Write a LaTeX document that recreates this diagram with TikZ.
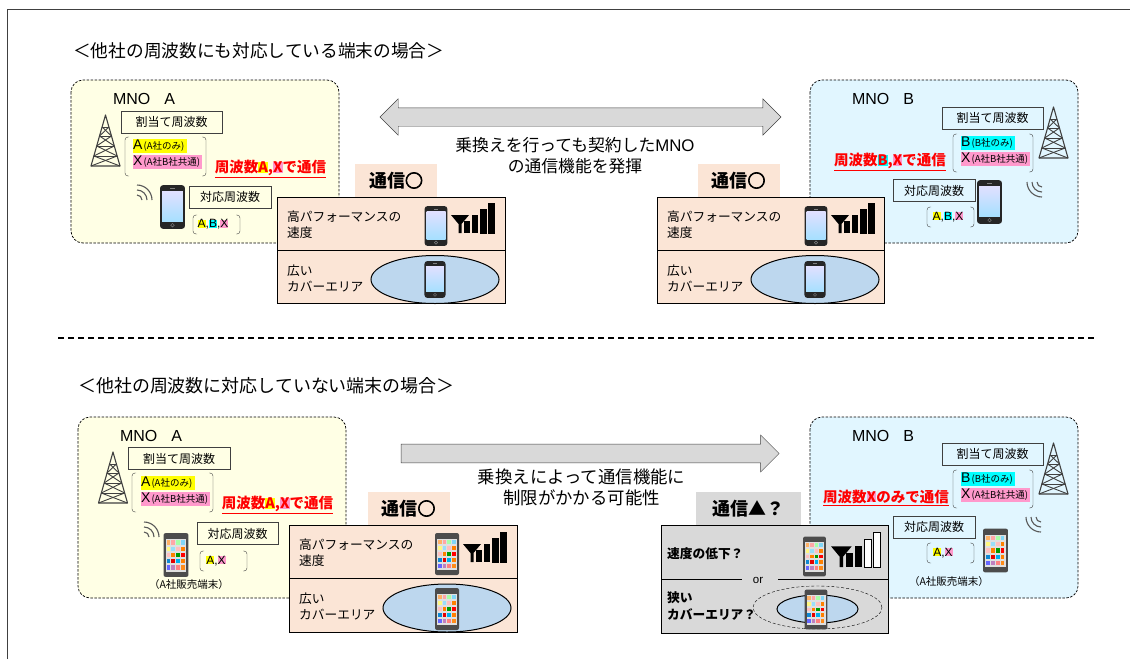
\documentclass[tikz,border=0pt]{standalone}
\usepackage{fontspec}
\setmainfont{Noto Sans CJK JP}
\newfontfamily\latin{Liberation Sans}
\newfontfamily\fatcircle[FakeBold=4]{Noto Sans CJK JP}
\usetikzlibrary{shapes.arrows}
\definecolor{lemon}{HTML}{FFFFE5}
\definecolor{sky}{HTML}{E1F6FF}
\definecolor{peach}{HTML}{FBE5D6}
\definecolor{pale}{HTML}{D9D9D9}
\definecolor{lake}{HTML}{BDD7EE}
\definecolor{rim}{HTML}{404040}
\definecolor{hlpink}{HTML}{FF99CC}
\definecolor{hlyellow}{HTML}{FFFF00}
\definecolor{hlcyan}{HTML}{00FFFF}
\newcommand{\fs}[1]{\fontsize{#1}{#1}\selectfont}
\newcommand{\hlbg}[2]{{\setlength{\fboxsep}{0pt}\colorbox{#1}{#2}}}
\newcommand{\bracketpair}[4]{\draw[rim,rounded corners=3pt] (#1+4,#2) -- (#1,#2) -- (#1,#4) -- (#1+4,#4);
  \draw[rim,rounded corners=3pt] (#3-4,#2) -- (#3,#2) -- (#3,#4) -- (#3-4,#4);}
\newcommand{\mnoname}[1]{{\latin MNO\hspace{14pt}#1}}
\newcommand{\freqline}[2]{{\latin #1}\hspace{1pt}{\fs{9.5}(#2)}}
\newcommand{\goodcomm}{通信{\fatcircle ○}}
\tikzset{
  mno/.style={draw,line width=.7pt,dash pattern=on 2.5pt off 1.5pt,rounded corners=12pt},
  mnotext/.style={inner sep=0pt,font=\fs{16}},
  freqbox/.style={draw=rim,line width=.9pt,minimum height=22pt,inner sep=0pt,font=\fs{12}},
  hltext/.style={anchor=west,inner sep=0pt,minimum height=14pt,align=left,font=\fs{14}},
  redtext/.style={text=red,font=\fs{14.5}\bfseries,inner sep=0pt},
  comm/.style={minimum width=82pt,minimum height=33pt,inner sep=0pt,font=\fs{18}\bfseries},
  paneltext/.style={anchor=west,align=left,inner sep=0pt,font=\fontsize{12.7}{16}\selectfont},
  midtext/.style={align=center,font=\fontsize{16.8}{21}\selectfont},
  pics/phone/.style={code={
    \fill[black!85,rounded corners=3pt] (-12,-21) rectangle (12,21);
    \shade[top color=blue!12,bottom color=blue!35!cyan!35] (-10,-15) rectangle (10,14);
    \draw[gray,line width=.4pt] (0,17.5) circle (1.7pt);
    \draw[gray,line width=.5pt] (-2,-18) -- (2,-18);
  }},
  pics/appphone/.style={code={
    \fill[black!70,rounded corners=2pt] (-12,-21) rectangle (12,21);
    \fill[black!12] (-10,-15) rectangle (10,16);
    \foreach \cola/\colb/\colc/\cold [count=\r from 0] in {orange!60/red!35/green!35/cyan!50,yellow!50/cyan!40/pink/orange,pink/orange/green!60!black/red,cyan!70!blue/red!90!black/cyan/orange,blue!60/violet!50/red!50/orange!90}{
      \fill[\cola] (-9,-14+6*\r) rectangle +(3.6,4);
      \fill[\colb] (-4.4,-14+6*\r) rectangle +(3.6,4);
      \fill[\colc] (.4,-14+6*\r) rectangle +(3.6,4);
      \fill[\cold] (5,-14+6*\r) rectangle +(3.6,4);
    }
  }},
  pics/tower/.style={code={
    \draw[rim,line width=1.1pt,line join=round] (-14.5,51) -- (0,0) -- (14.5,51) -- cycle;
    \foreach \ya/\yb in {12/21,21/31,31/41,41/51}{
      \draw[rim,line width=.9pt] ({-.284*\ya},\ya) -- ({.284*\ya},\ya);
      \draw[rim,line width=.9pt] ({-.284*\ya},\ya) -- ({.284*\yb},\yb);
      \draw[rim,line width=.9pt] ({.284*\ya},\ya) -- ({-.284*\yb},\yb);
    }
  }},
  pics/waves/.style={code={
    \foreach \r in {5,10,15}
      \draw[black!65,line width=1.1pt] (\r,0) .. controls (\r,-.55*\r) and (.55*\r,-\r) .. (0,-\r);
  }},
  pics/signal/.style={code={
    \fill (0,-18) -- (18,-18) -- (10.5,-9) -- (10.5,0) -- (7.5,0) -- (7.5,-9) -- cycle;
    \fill (13,-12) rectangle (18.8,0);
    \fill (21,-18) rectangle (26.8,0);
    \draw[fill=#1,line width=.5pt] (29,-24) rectangle (34.8,0);
    \draw[fill=#1,line width=.5pt] (37,-30) rectangle (42.8,0);
  }},
}
\begin{document}
\begin{tikzpicture}[x=1pt,y=-1pt]
  \useasboundingbox (0,0) rectangle (1130,659);
  \draw[rim,line width=1pt] (7,659) -- (7,9.5) -- (1130,9.5);
  \node[inner sep=0pt,anchor=west,font=\fs{17.7}] (titleup) at (73,51) {＜他社の周波数にも対応している端末の場合＞};
  \node[inner sep=0pt,anchor=west,font=\fs{17.95}] (titledown) at (78,386) {＜他社の周波数に対応していない端末の場合＞};
  \draw[line width=1.1pt,dash pattern=on 6pt off 4pt] (58,338) -- (1096,338);

  % MNO areas
  \draw[mno,fill=lemon] (71,80) rectangle (339,243);
  \draw[mno,fill=sky] (810,80) rectangle (1078,243);
  \draw[mno,fill=lemon] (78,417) rectangle (346,598);
  \draw[mno,fill=sky] (810,417) rectangle (1078,598);

  % upper left
  \node[mnotext] (mnoa) at (144,99) {\mnoname{A}};
  \pic at (105.5,115) {tower};
  \node[freqbox,minimum width=101pt] (alloca) at (171.5,122) {割当て周波数};
  \bracketpair{125}{137}{206}{176}
  \node[hltext,fill=hlyellow,text width=54pt] (only) at (133,145.5) {\freqline{A}{A社のみ}};
  \node[hltext,fill=hlpink,text width=69pt] (share) at (133,162) {\freqline{X}{A社B社共通}};
  \node[redtext] (usea) at (270.5,169) {\underline{周波数\hlbg{hlyellow}{A},\hlbg{hlpink}{X}で通信}};
  \pic at (137,200) {waves};
  \pic[scale=1.04] at (172.5,207) {phone};
  \node[freqbox,minimum width=82pt] (supporta) at (230,197) {対応周波数};
  \bracketpair{193}{215}{240}{234}
  \node[inner sep=0pt,font=\latin\fs{12}] (banda) at (213,224.5) {\hlbg{hlyellow}{A},\hlbg{hlcyan}{B},\hlbg{hlpink}{X}};

  % upper right
  \node[mnotext] (mnob) at (883,99) {\mnoname{B}};
  \pic at (1053.5,107) {tower};
  \node[freqbox,minimum width=101pt] (allocb) at (992.5,118) {割当て周波数};
  \bracketpair{953}{134}{1033}{172}
  \node[hltext,fill=hlcyan,text width=54pt] (onlyb) at (961,143) {\freqline{B}{B社のみ}};
  \node[hltext,fill=hlpink,text width=69pt] (shareb) at (961,159) {\freqline{X}{A社B社共通}};
  \node[redtext] (useb) at (890,162) {\underline{周波数\hlbg{hlcyan}{B},\hlbg{hlpink}{X}で通信}};
  \pic[rotate=180] at (1042,182) {waves};
  \pic[scale=1.04] at (989.5,202) {phone};
  \node[freqbox,minimum width=82pt] (supportb) at (934,190.5) {対応周波数};
  \bracketpair{927}{207}{974}{227}
  \node[inner sep=0pt,font=\latin\fs{12}] (bandb) at (948,217) {\hlbg{hlyellow}{A},\hlbg{hlcyan}{B},\hlbg{hlpink}{X}};

  % lower left
  \node[mnotext] (mnoc) at (151,436) {\mnoname{A}};
  \pic at (113,452) {tower};
  \node[freqbox,minimum width=102pt] (allocc) at (179,458.5) {割当て周波数};
  \bracketpair{132}{473}{213}{512}
  \node[hltext,fill=hlyellow,text width=54pt] (onlyc) at (141,483) {\freqline{A}{A社のみ}};
  \node[hltext,fill=hlpink,text width=69pt] (sharec) at (141,499) {\freqline{X}{A社B社共通}};
  \node[redtext] (usec) at (277.5,505) {\underline{周波数\hlbg{hlyellow}{A},\hlbg{hlpink}{X}で通信}};
  \pic at (144,537) {waves};
  \pic[scale=1.04] at (176,555) {appphone};
  \node[freqbox,minimum width=81pt] (supportc) at (237.5,533.5) {対応周波数};
  \bracketpair{200}{551}{247}{571}
  \node[inner sep=0pt,font=\latin\fs{12}] (bandc) at (216,561) {\hlbg{hlyellow}{A},\hlbg{hlpink}{X}};
  \node[inner sep=0pt,font=\fs{10.5}] (capc) at (189,585) {（A社販売端末）};

  % lower right
  \node[mnotext] (mnod) at (883,436) {\mnoname{B}};
  \pic at (1053.5,443) {tower};
  \node[freqbox,minimum width=101pt] (allocd) at (992.5,454) {割当て周波数};
  \bracketpair{953}{470}{1033}{508}
  \node[hltext,fill=hlcyan,text width=54pt] (onlyd) at (961,479) {\freqline{B}{B社のみ}};
  \node[hltext,fill=hlpink,text width=69pt] (shared) at (961,495) {\freqline{X}{A社B社共通}};
  \node[redtext] (used) at (886,498) {\underline{周波数\hlbg{hlpink}{X}のみで通信}};
  \pic[rotate=180] at (1041,517) {waves};
  \pic[scale=1.04] at (995.5,550.5) {appphone};
  \node[freqbox,minimum width=82pt] (supportd) at (934,527) {対応周波数};
  \bracketpair{927}{543}{974}{563}
  \node[inner sep=0pt,font=\latin\fs{12}] (bandd) at (943,553) {\hlbg{hlyellow}{A},\hlbg{hlpink}{X}};
  \node[inner sep=0pt,font=\fs{10.5}] (capd) at (949,582) {（A社販売端末）};

  % arrows and middle texts
  \node[double arrow,draw=rim,fill=pale,inner xsep=0pt,inner ysep=9pt,minimum height=401pt,minimum width=36pt,double arrow head extend=9pt] (both) at (580.5,117) {};
  \node[midtext] (keep) at (575,155.5) {乗換えを行っても契約した{\latin MNO}\\の通信機能を発揮};
  \node[single arrow,draw=rim,fill=pale,inner xsep=0pt,inner ysep=9pt,minimum height=378pt,minimum width=37pt,single arrow head extend=9pt] (oneway) at (585.5,453.5) {};
  \node[midtext,font=\fontsize{17.4}{21}\selectfont] (limit) at (581.5,487.5) {乗換えによって通信機能に\\制限がかかる可能性};

  % panels
  \node[comm,fill=peach] (commone) at (396,180.5) {\goodcomm};
  \draw[fill=peach,line width=1pt] (277,197) rectangle (505,303);
  \draw[line width=1pt] (277,250) -- (505,250);
  \node[paneltext] (fastone) at (287,225) {高パフォーマンスの\\速度};
  \node[paneltext] (wideone) at (287,278) {広い\\カバーエリア};
  \pic[scale=.95] at (436,226) {phone};
  \pic at (451,233) {signal=black};
  \draw[line width=1pt,fill=lake] (435,279.5) ellipse [x radius=64pt,y radius=24pt];
  \pic[scale=.88] at (435,279.5) {phone};

  \node[comm,fill=peach] (commtwo) at (738.5,180.5) {\goodcomm};
  \draw[fill=peach,line width=1pt] (657,197) rectangle (884,303);
  \draw[line width=1pt] (657,250) -- (884,250);
  \node[paneltext] (fasttwo) at (667,225) {高パフォーマンスの\\速度};
  \node[paneltext] (widetwo) at (667,278) {広い\\カバーエリア};
  \pic[scale=.95] at (816,226) {phone};
  \pic at (831,233) {signal=black};
  \draw[line width=1pt,fill=lake] (815,279.5) ellipse [x radius=64pt,y radius=24pt];
  \pic[scale=.88] at (815,279.5) {phone};

  \node[comm,fill=peach] (commthree) at (408.5,508.5) {\goodcomm};
  \draw[fill=peach,line width=1pt] (289,525) rectangle (517,632);
  \draw[line width=1pt] (289,578) -- (517,578);
  \node[paneltext] (fastthree) at (299,553) {高パフォーマンスの\\速度};
  \node[paneltext] (widethree) at (299,606) {広い\\カバーエリア};
  \pic at (447,554) {appphone};
  \pic at (463,562) {signal=black};
  \draw[line width=1pt,fill=lake] (447,608) ellipse [x radius=64pt,y radius=24pt];
  \pic at (447,609) {appphone};

  \node[comm,fill=pale,minimum width=105pt] (commfour) at (748.5,508.5) {通信▲？};
  \draw[fill=pale,line width=1pt] (661,525) rectangle (888,633);
  \draw[line width=1pt] (661,579) -- (742,579) (778,579) -- (888,579);
  \node[inner sep=0pt,font=\latin\fs{11.5}] (orlabel) at (758,580) {or};
  \node[paneltext,font=\fontsize{12.7}{17}\selectfont\bfseries] (slow) at (667,554) {速度の低下？};
  \node[paneltext,font=\fontsize{12.7}{17}\selectfont\bfseries] (narrow) at (667,605.5) {狭い\\カバーエリア？};
  \pic[scale=.95] at (814.5,556.5) {appphone};
  \pic[scale=1.15] at (831,567) {signal=white};
  \draw[densely dashed] (817.5,607.5) ellipse [x radius=64.5pt,y radius=21.5pt];
  \draw[line width=1pt,fill=lake] (817.5,609) ellipse [x radius=40.5pt,y radius=14pt];
  \pic[scale=.95] at (816,609.5) {appphone};
\end{tikzpicture}
\end{document}
